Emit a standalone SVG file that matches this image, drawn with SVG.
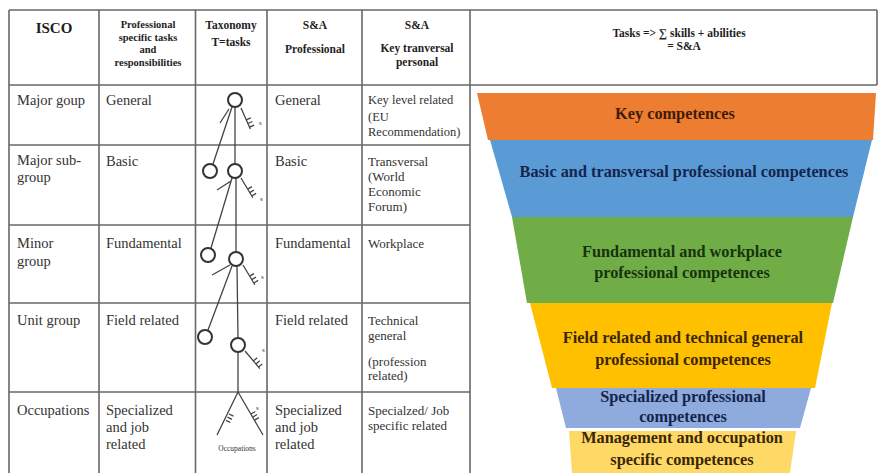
<svg xmlns="http://www.w3.org/2000/svg" width="878" height="473" viewBox="0 0 878 473">
<style>
.grid{stroke:#686868;stroke-width:1.6;fill:none}
.hd{font-family:"Liberation Serif",serif;font-weight:bold;font-size:11.5px;text-anchor:middle;fill:#1e1e1e}
.hp{font-size:10.5px}
.bd{font-family:"Liberation Serif",serif;font-size:14.5px;fill:#333}
.sm{font-family:"Liberation Serif",serif;font-size:13px;fill:#333}
.tree{stroke:#444;stroke-width:1.3;fill:none}
.node{stroke:#333;stroke-width:2;fill:#fff}
.s{font-family:"Liberation Serif",serif;font-size:7px;fill:#333}
.ft{font-family:"Liberation Serif",serif;font-weight:bold;font-size:16.3px;text-anchor:middle}
</style>
<defs>
<path id="rake" d="M0,0 H23 M13,0 v-5 M17,0 v-5 M21,0 v-5" stroke="#444" stroke-width="1.3" fill="none"/>
<path id="ticks" d="M0,0 v-5 M3.5,0 v-5 M7,0 v-5" stroke="#444" stroke-width="1.3" fill="none"/>
</defs>
<rect width="878" height="473" fill="#fff"/>

<g id="grid" class="grid">
<path d="M9,10 H877 M9,85 H877 M877,10 V85"/>
<path d="M9,10 V473 M99,10 V473 M195.5,10 V473 M267,10 V473 M362,10 V473 M470,10 V473"/>
<path d="M9,145 H470 M9,225 H470 M9,303 H470 M9,392 H470"/>
</g>

<g id="header">
<text class="hd" x="54" y="33" style="font-size:15px">ISCO</text>
<text class="hd hp" x="148" y="28">Professional</text>
<text class="hd hp" x="148" y="40.5">specific tasks</text>
<text class="hd hp" x="148" y="53">and</text>
<text class="hd hp" x="148" y="65.5">responsibilities</text>
<text class="hd" x="231" y="29">Taxonomy</text>
<text class="hd" x="231" y="46">T=tasks</text>
<text class="hd" x="315" y="29">S&amp;A</text>
<text class="hd" x="315" y="53">Professional</text>
<text class="hd" x="417" y="29">S&amp;A</text>
<text class="hd" x="417" y="52">Key tranversal</text>
<text class="hd" x="417" y="66">personal</text>
<text class="hd" x="679" y="37" style="font-size:11.5px">Tasks =&gt; ∑ skills + abilities</text>
<text class="hd" x="684" y="50" style="font-size:11.5px">= S&amp;A</text>
</g>

<g id="row-major-group">
<text class="bd" x="17" y="105">Major goup</text>
<text class="bd" x="106" y="105">General</text>
<text class="bd" x="275" y="105">General</text>
<text class="sm" x="368" y="104" style="font-size:12.5px">Key level related</text>
<text class="sm" x="368" y="121" style="font-size:12.5px">(EU</text>
<text class="sm" x="368" y="136" style="font-size:12.5px">Recommendation)</text>
</g>

<g id="row-major-sub-group">
<text class="bd" x="17" y="165">Major sub-</text>
<text class="bd" x="17" y="182">group</text>
<text class="bd" x="106" y="166">Basic</text>
<text class="bd" x="275" y="166">Basic</text>
<text class="sm" x="368" y="166">Transversal</text>
<text class="sm" x="368" y="181">(World</text>
<text class="sm" x="368" y="196">Economic</text>
<text class="sm" x="368" y="211">Forum)</text>
</g>

<g id="row-minor-group">
<text class="bd" x="17" y="248">Minor</text>
<text class="bd" x="17" y="266">group</text>
<text class="bd" x="106" y="248">Fundamental</text>
<text class="bd" x="275" y="248">Fundamental</text>
<text class="sm" x="368" y="248">Workplace</text>
</g>

<g id="row-unit-group">
<text class="bd" x="17" y="325">Unit group</text>
<text class="bd" x="106" y="325">Field related</text>
<text class="bd" x="275" y="325">Field related</text>
<text class="sm" x="368" y="325">Technical</text>
<text class="sm" x="368" y="340">general</text>
<text class="sm" x="368" y="366">(profession</text>
<text class="sm" x="368" y="380">related)</text>
</g>

<g id="row-occupations">
<text class="bd" x="17" y="415">Occupations</text>
<text class="bd" x="106" y="415">Specialized</text>
<text class="bd" x="106" y="432">and job</text>
<text class="bd" x="106" y="449">related</text>
<text class="bd" x="275" y="415">Specialized</text>
<text class="bd" x="275" y="432">and job</text>
<text class="bd" x="275" y="449">related</text>
<text class="sm" x="368" y="415">Specialzed/ Job</text>
<text class="sm" x="368" y="430">specific related</text>
</g>

<g id="connectors" class="tree">
<path d="M235,107 V164 M232,107 L213,164 M220,123 L229,109"/>
<path d="M236,178 V252 M232,178 L211,248 M217,190 L231,181"/>
<path d="M237,266 L238,338 M232,266 L208,330 M212,275 L230,265"/>
<path d="M238,352 V392 M238,392 L217,435 M238,392 L263,435"/>
<use href="#rake" transform="translate(241,108) rotate(66)"/>
<use href="#rake" transform="translate(241,178) rotate(59)"/>
<use href="#rake" transform="translate(243,265) rotate(59)"/>
<use href="#rake" transform="translate(245,351) rotate(50)"/>
<use href="#ticks" transform="translate(229,414) rotate(116)"/>
<use href="#ticks" transform="translate(251,414) rotate(60)"/>
</g>

<g id="tree-nodes">
<circle class="node" cx="235" cy="100" r="7"/>
<circle class="node" cx="210" cy="171" r="7"/>
<circle class="node" cx="235" cy="171" r="7"/>
<circle class="node" cx="208" cy="255" r="7"/>
<circle class="node" cx="236" cy="259" r="7"/>
<circle class="node" cx="205" cy="337" r="7"/>
<circle class="node" cx="238" cy="345" r="7"/>
<text class="s" x="259" y="125">s</text>
<text class="s" x="260" y="201">s</text>
<text class="s" x="261" y="279">s</text>
<text class="s" x="262" y="352">s</text>
<text class="s" x="256" y="410">s</text>
<text class="s" x="237" y="451" text-anchor="middle" style="font-size:7.5px">Occupations</text>
</g>

<g id="band-key">
<polygon points="477,93 876,93 873,140 488,140" fill="#ED7D31"/>
<text class="ft" x="675" y="119" fill="#3f1c08">Key competences</text>
</g>
<g id="band-basic">
<polygon points="490,140 872,140 853,217 512,217" fill="#5B9BD5"/>
<text class="ft" x="684" y="177" fill="#14254d">Basic and transversal professional competences</text>
</g>
<g id="band-fundamental">
<polygon points="512,217 853,217 833,303 527,303" fill="#70AD47"/>
<text class="ft" x="682" y="257" fill="#17330c">Fundamental and workplace</text>
<text class="ft" x="682" y="278" fill="#17330c">professional competences</text>
</g>
<g id="band-field">
<polygon points="530,303 832,303 815,388 552,388" fill="#FFC000"/>
<text class="ft" x="683" y="343" fill="#3a2608">Field related and technical general</text>
<text class="ft" x="683" y="365" fill="#3a2608">professional competences</text>
</g>
<g id="band-specialized">
<polygon points="556,388 811,388 800,428 566,428" fill="#8FAADC"/>
<text class="ft" x="683" y="402" fill="#14254d">Specialized professional</text>
<text class="ft" x="683" y="422" fill="#14254d">competences</text>
</g>
<g id="band-management">
<polygon points="569,431 796,431 790,473 572,473" fill="#FFD966"/>
<text class="ft" x="682" y="443" fill="#3a2608">Management and occupation</text>
<text class="ft" x="682" y="465" fill="#3a2608">specific competences</text>
</g>
</svg>
